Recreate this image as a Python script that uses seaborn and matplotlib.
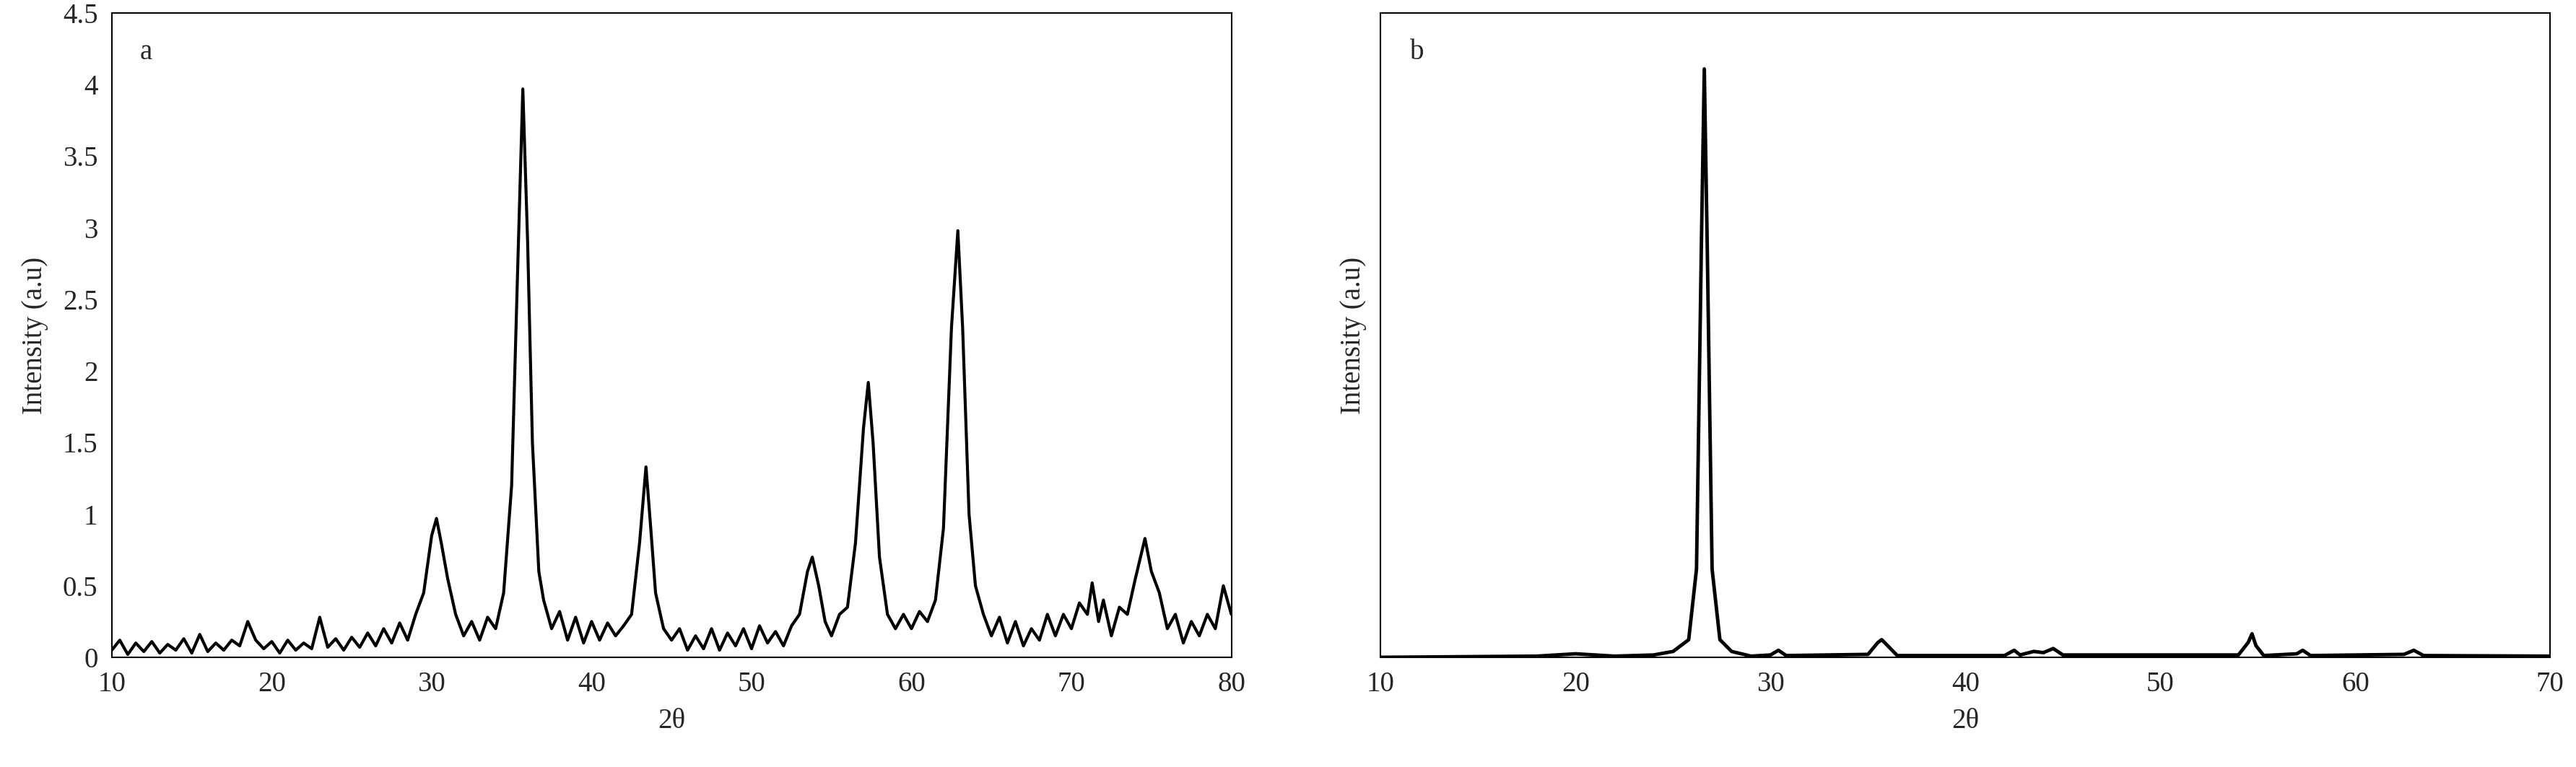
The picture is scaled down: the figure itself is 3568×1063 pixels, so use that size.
import matplotlib
matplotlib.use("Agg")
import matplotlib.pyplot as plt
import seaborn as sns

# panel a: XRD pattern (2theta, intensity a.u.)
a_x = [10, 10.5, 11, 11.5, 12, 12.5, 13, 13.5, 14, 14.5, 15, 15.5, 16, 16.5, 17, 17.5, 18, 18.5,
       19, 19.5, 20, 20.5, 21, 21.5, 22, 22.5, 23, 23.5, 24, 24.5, 25, 25.5, 26, 26.5, 27, 27.5,
       28, 28.5, 29, 29.5, 30, 30.3, 30.6, 31, 31.5, 32, 32.5, 33, 33.5, 34, 34.5, 35, 35.4, 35.7,
       36, 36.3, 36.7, 37, 37.5, 38, 38.5, 39, 39.5, 40, 40.5, 41, 41.5, 42, 42.5, 43, 43.4, 43.7,
       44, 44.5, 45, 45.5, 46, 46.5, 47, 47.5, 48, 48.5, 49, 49.5, 50, 50.5, 51, 51.5, 52, 52.5,
       53, 53.5, 53.8, 54.2, 54.6, 55, 55.5, 56, 56.5, 57, 57.3, 57.6, 58, 58.5, 59, 59.5, 60,
       60.5, 61, 61.5, 62, 62.5, 62.9, 63.2, 63.6, 64, 64.5, 65, 65.5, 66, 66.5, 67, 67.5, 68,
       68.5, 69, 69.5, 70, 70.5, 71, 71.3, 71.7, 72, 72.5, 73, 73.5, 74, 74.6, 75, 75.5, 76, 76.5,
       77, 77.5, 78, 78.5, 79, 79.5, 80]
a_y = [0.05, 0.12, 0.02, 0.1, 0.04, 0.11, 0.03, 0.09, 0.05, 0.13, 0.03, 0.16, 0.04, 0.1, 0.05, 0.12, 0.08, 0.25,
       0.12, 0.06, 0.11, 0.03, 0.12, 0.05, 0.1, 0.06, 0.28, 0.07, 0.13, 0.05, 0.14, 0.07, 0.17, 0.08, 0.2, 0.1,
       0.24, 0.12, 0.3, 0.45, 0.85, 0.97, 0.8, 0.55, 0.3, 0.15, 0.25, 0.12, 0.28, 0.2, 0.45, 1.2, 2.8, 3.97,
       2.9, 1.5, 0.6, 0.4, 0.2, 0.32, 0.12, 0.28, 0.1, 0.25, 0.12, 0.24, 0.15, 0.22, 0.3, 0.8, 1.33, 0.9,
       0.45, 0.2, 0.12, 0.2, 0.05, 0.15, 0.06, 0.2, 0.05, 0.17, 0.08, 0.2, 0.06, 0.22, 0.1, 0.18, 0.08, 0.22,
       0.3, 0.6, 0.7, 0.5, 0.25, 0.15, 0.3, 0.35, 0.8, 1.6, 1.92, 1.5, 0.7, 0.3, 0.2, 0.3, 0.2,
       0.32, 0.25, 0.4, 0.9, 2.3, 2.98, 2.3, 1.0, 0.5, 0.3, 0.15, 0.28, 0.1, 0.25, 0.08, 0.2, 0.12,
       0.3, 0.15, 0.3, 0.2, 0.38, 0.3, 0.52, 0.25, 0.4, 0.15, 0.35, 0.3, 0.55, 0.83, 0.6, 0.45, 0.2, 0.3,
       0.1, 0.25, 0.15, 0.3, 0.2, 0.5, 0.3]

# panel b: XRD pattern (normalised intensity)
b_x = [10, 18, 20, 22, 24, 25, 25.8, 26.2, 26.45, 26.6, 26.75, 27, 27.4, 28, 29, 30, 30.4, 30.8,
       35, 35.5, 35.7, 36, 36.5, 42, 42.5, 42.8, 43.5, 44, 44.5, 45, 54, 54.5, 54.7, 54.9, 55.3,
       57, 57.3, 57.7, 62.5, 63, 63.5, 70]
b_y = [0, 0.002, 0.006, 0.002, 0.004, 0.01, 0.03, 0.15, 0.7, 1.0, 0.7, 0.15, 0.03, 0.01, 0.002, 0.004, 0.012, 0.003,
       0.005, 0.025, 0.03, 0.02, 0.003, 0.003, 0.012, 0.004, 0.01, 0.008, 0.015, 0.004, 0.004, 0.025, 0.04, 0.02, 0.003,
       0.006, 0.012, 0.003, 0.005, 0.012, 0.003, 0.002]

sns.set_style("white")
plt.rcParams['font.family'] = ['Liberation Serif', 'DejaVu Serif']

fig = plt.figure(figsize=(35.68, 10.63), dpi=100)
ax1 = fig.add_axes([0.0434, 0.143, 0.4346, 0.84])
ax2 = fig.add_axes([0.536, 0.143, 0.454, 0.84])

sns.lineplot(x=a_x, y=a_y, ax=ax1, color="black", linewidth=3)
ax1.set_xlim(10, 80)
ax1.set_ylim(0, 4.5)
ax1.set_xticks(range(10, 81, 10))
ax1.set_yticks([0, 0.5, 1, 1.5, 2, 2.5, 3, 3.5, 4, 4.5])
ax1.set_yticklabels(["0", "0.5", "1", "1.5", "2", "2.5", "3", "3.5", "4", "4.5"])
ax1.set_xlabel("2θ", fontsize=28, labelpad=10)
ax1.set_ylabel("Intensity (a.u)", fontsize=28, labelpad=14)
ax1.text(0.025, 0.96, "a", transform=ax1.transAxes, fontsize=28, va="top")

sns.lineplot(x=b_x, y=b_y, ax=ax2, color="black", linewidth=3.5)
ax2.set_xlim(10, 70)
ax2.set_ylim(0, 1.095)
ax2.set_xticks(range(10, 71, 10))
ax2.set_yticks([])
ax2.set_xlabel("2θ", fontsize=28, labelpad=10)
ax2.set_ylabel("Intensity (a.u)", fontsize=28, labelpad=14)
ax2.text(0.025, 0.96, "b", transform=ax2.transAxes, fontsize=28, va="top")

for ax in (ax1, ax2):
    ax.tick_params(labelsize=28, length=0, pad=14)
    for s in ax.spines.values():
        s.set_color("black")
        s.set_linewidth(1.5)

fig.savefig("out.png", dpi=100)
